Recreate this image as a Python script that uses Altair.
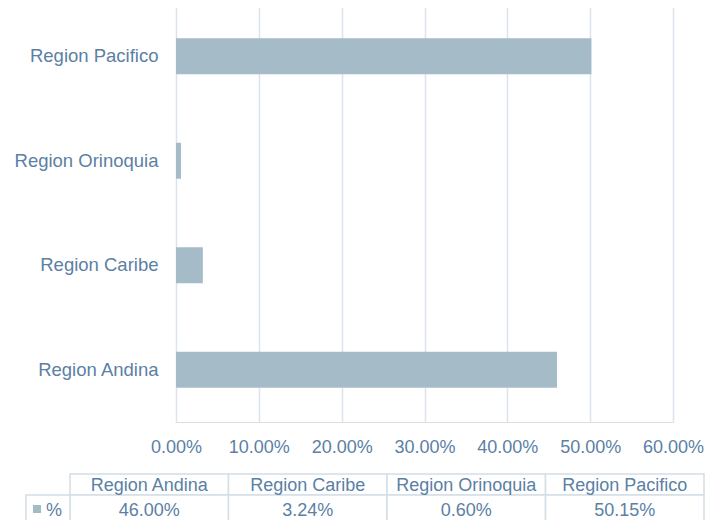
import altair as alt
import pandas as pd

# ---- data ----
regions = ["Region Andina", "Region Caribe", "Region Orinoquia", "Region Pacifico"]
shares = [0.4600, 0.0324, 0.0060, 0.5015]
axis_order = ["Region Pacifico", "Region Orinoquia", "Region Caribe", "Region Andina"]
x_ticks = [0.0, 0.1, 0.2, 0.3, 0.4, 0.5, 0.6]
series_label = "%"

df = pd.DataFrame({"region": regions, "share": shares})

TEXT = "#5b7fa5"
GRID = "#dbe4ed"
BAR = "#a6bbc8"
BORDER = "#d3dee8"
FONT = "Liberation Sans"

PLOT_W, PLOT_H = 497, 418

bars = alt.Chart(df).mark_bar(color=BAR, size=36).encode(
    x=alt.X(
        "share:Q",
        scale=alt.Scale(domain=[0, 0.6], nice=False, zero=True),
        axis=alt.Axis(
            values=x_ticks, format=".2%", grid=True, gridColor=GRID, gridWidth=1.5,
            domain=False, ticks=False, tickSize=0, labelPadding=16, labelFontSize=18,
            labelColor=TEXT, labelFont=FONT, title=None, labelFlush=False,
        ),
    ),
    y=alt.Y(
        "region:N",
        sort=axis_order,
        scale=alt.Scale(paddingInner=0, paddingOuter=0),
        axis=alt.Axis(
            domain=False, ticks=False, tickSize=0, labelPadding=18, labelFontSize=18.5,
            labelColor=TEXT, labelFont=FONT, title=None, grid=False, labelLimit=300,
        ),
    ),
)

# ---- data table under the chart ----
table_x = alt.X("region:N", sort=regions,
                scale=alt.Scale(range=[-106, 528], paddingInner=0, paddingOuter=0), axis=None)
head_y = alt.Y("row:N", scale=alt.Scale(domain=["header"], range=[470, 491],
                                         paddingInner=0, paddingOuter=0), axis=None)
val_y = alt.Y("row:N", scale=alt.Scale(domain=["value"], range=[491, 519],
                                        paddingInner=0, paddingOuter=0), axis=None)

base = alt.Chart(df)

head_cells = base.transform_calculate(row="'header'").mark_rect(
    fill="white", stroke=BORDER, strokeWidth=1.5
).encode(x=table_x, y=head_y)

val_cells = base.transform_calculate(row="'value'").mark_rect(
    fill="white", stroke=BORDER, strokeWidth=1.5
).encode(x=table_x, y=val_y)

head_text = base.transform_calculate(row="'header'").mark_text(
    fontSize=18, font=FONT, color=TEXT, baseline="middle", dy=1.5
).encode(x=table_x, y=head_y, text="region:N")

val_text = base.transform_calculate(row="'value'").mark_text(
    fontSize=18, font=FONT, color=TEXT, baseline="middle", dy=1.5
).encode(x=table_x, y=val_y, text=alt.Text("share:Q", format=".2%"))

legend_df = pd.DataFrame({"row": ["value"], "label": [series_label]})
legend_base = alt.Chart(legend_df)
legend_cell = legend_base.mark_rect(fill="white", stroke=BORDER, strokeWidth=1.5).encode(
    x=alt.value(-150), x2=alt.value(-106), y=val_y
)
legend_swatch = legend_base.mark_square(size=64, color=BAR, opacity=1).encode(
    x=alt.value(-139), y=val_y
)
legend_text = legend_base.mark_text(
    fontSize=18, font=FONT, color=TEXT, baseline="middle", dy=1.5
).encode(x=alt.value(-122), y=val_y, text="label:N")

chart = alt.layer(
    bars, head_cells, val_cells, head_text, val_text, legend_cell, legend_swatch, legend_text
).resolve_scale(x="independent", y="independent").properties(
    width=PLOT_W,
    height=PLOT_H,
    autosize=alt.AutoSizeParams(type="none"),
    padding={"left": 168, "top": -4, "right": 39, "bottom": 98},
).configure_view(stroke=None).configure(background="white")

chart.save("out.html", embed_options={"renderer": "svg", "actions": False})
